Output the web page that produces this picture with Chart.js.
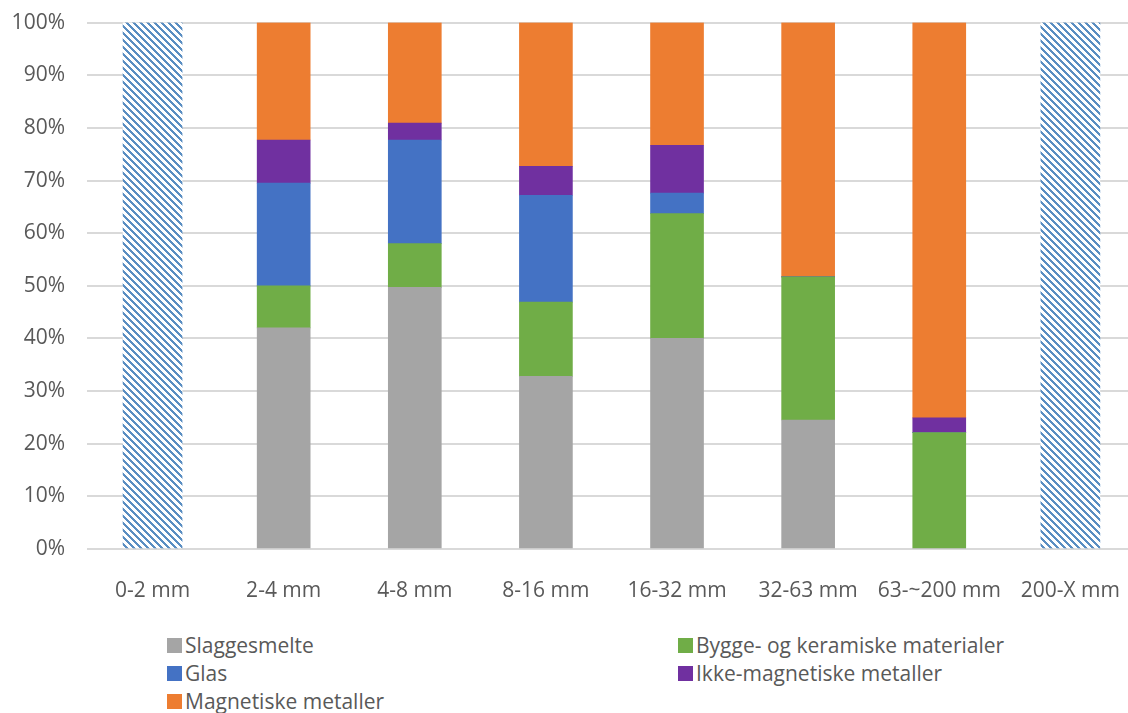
<!DOCTYPE html>
<html>
<head>
<meta charset="utf-8">
<script src="https://cdn.jsdelivr.net/npm/chart.js@4.4.1/dist/chart.umd.min.js"></script>
<style>
  html, body { margin: 0; padding: 0; background: #fff; overflow: hidden; }
  #wrap { position: relative; width: 1141px; height: 713px; }
  #chartBox { position: absolute; left: 0; top: -12px; width: 1141px; height: 612px; }
  #legend { position: absolute; left: 0; top: 0; font-family: "Open Sans", sans-serif; font-size: 21px; color: #595959; }
  .item { position: absolute; height: 28px; line-height: 28px; white-space: nowrap; }
  .item .box { position: absolute; left: 0; top: 7px; width: 15px; height: 15px; }
  .item .txt { position: absolute; left: 18px; top: 0; }
</style>
</head>
<body>
<div id="wrap">
  <div id="chartBox"><canvas id="fractionChart"></canvas></div>
  <div id="legend"></div>
</div>
<script>
// size fractions on the x axis
const fractions = ["0-2 mm", "2-4 mm", "4-8 mm", "8-16 mm", "16-32 mm", "32-63 mm", "63-~200 mm", "200-X mm"];

// share of each material (%) per fraction
const slaggesmelte = [null, 42, 49.7, 32.8, 40, 24.5, 0, null];
const byggeKeramik = [null, 8, 8.3, 14.1, 23.7, 27.2, 22.1, null];
const glas = [null, 19.5, 19.7, 20.3, 3.9, 0, 0, null];
const ikkeMagnetiske = [null, 8.2, 3.2, 5.5, 9.1, 0, 2.8, null];
const magnetiske = [null, 22.3, 19.1, 27.3, 23.3, 48.3, 75.1, null];
// fractions not sorted (hatched)
const notSorted = [100, null, null, null, null, null, null, 100];

const yTicks = [0, 10, 20, 30, 40, 50, 60, 70, 80, 90, 100];

const textColor = "#595959";
const fontFamily = "'Open Sans', sans-serif";

// diagonal hatch like the excel pattern fill
function makeHatch() {
  const size = 7;
  const c = document.createElement("canvas");
  c.width = size;
  c.height = size;
  const ctx = c.getContext("2d");
  ctx.fillStyle = "#ffffff";
  ctx.fillRect(0, 0, size, size);
  ctx.fillStyle = "#5a8ec2";
  for (let y = 0; y < size; y++) {
    for (let x = 0; x < size; x++) {
      if ((((x - y) % size) + size) % size < 3) ctx.fillRect(x, y, 1, 1);
    }
  }
  return ctx.createPattern(c, "repeat");
}

const series = [
  { label: "Slaggesmelte", data: slaggesmelte, color: "#a5a5a5" },
  { label: "Bygge- og keramiske materialer", data: byggeKeramik, color: "#70ad47" },
  { label: "Glas", data: glas, color: "#4472c4" },
  { label: "Ikke-magnetiske metaller", data: ikkeMagnetiske, color: "#7030a0" },
  { label: "Magnetiske metaller", data: magnetiske, color: "#ed7d31" },
];

const datasets = series.map((s) => ({
  label: s.label,
  data: s.data,
  backgroundColor: s.color,
  borderWidth: 0,
  barThickness: 53,
}));

datasets.push({
  label: "hatch",
  data: notSorted,
  backgroundColor: makeHatch(),
  borderWidth: 0,
  barThickness: 59,
});

new Chart(document.getElementById("fractionChart"), {
  type: "bar",
  data: { labels: fractions, datasets },
  options: {
    responsive: true,
    maintainAspectRatio: false,
    animation: false,
    layout: { padding: { top: 10, left: 0, right: 0, bottom: 0 } },
    plugins: {
      legend: { display: false },
      tooltip: { enabled: false },
    },
    scales: {
      x: {
        stacked: true,
        grid: { display: false },
        border: { display: false },
        ticks: {
          color: textColor,
          padding: 21,
          maxRotation: 0,
          font: { family: fontFamily, size: 21 },
        },
        afterFit: (scale) => { scale.height = 51; },
      },
      y: {
        stacked: true,
        min: 0,
        max: 100,
        afterBuildTicks: (scale) => {
          scale.ticks = yTicks.map((v) => ({ value: v }));
        },
        grid: { color: "#d9d9d9", lineWidth: 2, drawTicks: false },
        border: { display: false },
        ticks: {
          color: textColor,
          padding: 22,
          font: { family: fontFamily, size: 21 },
          callback: (v) => v + "%",
        },
        afterFit: (scale) => { scale.width = 87; },
      },
    },
  },
});

// legend in two columns, same order as the series
const legendPos = [
  { x: 167, y: 645 },
  { x: 678, y: 645 },
  { x: 167, y: 673 },
  { x: 678, y: 673 },
  { x: 167, y: 701 },
];
const legendEl = document.getElementById("legend");
series.forEach((s, i) => {
  const item = document.createElement("div");
  item.className = "item";
  item.style.left = legendPos[i].x + "px";
  item.style.top = legendPos[i].y - 14 + "px";
  item.innerHTML = '<span class="box" style="background:' + s.color + '"></span><span class="txt">' + s.label + "</span>";
  legendEl.appendChild(item);
});
</script>
</body>
</html>
